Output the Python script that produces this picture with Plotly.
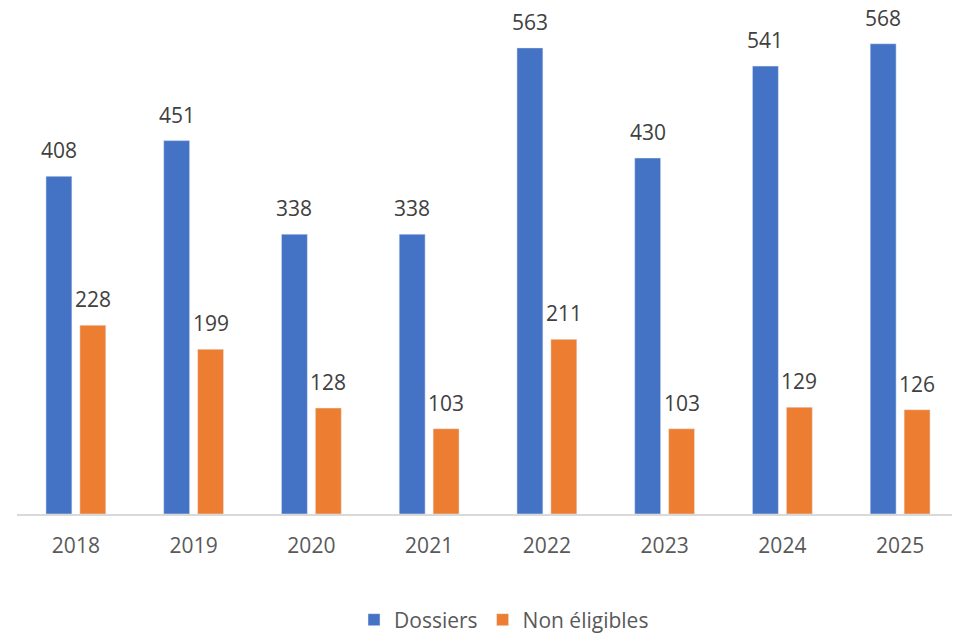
import plotly.graph_objects as go

years = ["2018", "2019", "2020", "2021", "2022", "2023", "2024", "2025"]
dossiers = [408, 451, 338, 338, 563, 430, 541, 568]
non_eligibles = [228, 199, 128, 103, 211, 103, 129, 126]

BLUE = "#4472C4"
ORANGE = "#ED7D31"
FONT = "Open Sans"

fig = go.Figure()
fig.add_trace(go.Bar(x=years, y=dossiers, name="Dossiers", marker_color=BLUE))
fig.add_trace(go.Bar(x=years, y=non_eligibles, name="Non éligibles", marker_color=ORANGE))

annotations = []
for i, v in enumerate(dossiers):
    annotations.append(dict(x=i, y=v, xref="x", yref="y", text=str(v), showarrow=False,
                            yanchor="bottom", xshift=-17, yshift=10,
                            font=dict(family=FONT, size=21, color="#404040")))
for i, v in enumerate(non_eligibles):
    annotations.append(dict(x=i, y=v, xref="x", yref="y", text=str(v), showarrow=False,
                            yanchor="bottom", xshift=17, yshift=10,
                            font=dict(family=FONT, size=21, color="#404040")))

fig.update_layout(
    width=952, height=626,
    margin=dict(l=9, r=1, t=12, b=120, autoexpand=False),
    paper_bgcolor="white", plot_bgcolor="white",
    barmode="group", bargap=0.424, bargroupgap=0.235,
    font=dict(family=FONT, size=21, color="#595959"),
    showlegend=True,
    legend=dict(orientation="h", x=0.517, xanchor="center",
                yref="container", y=14 / 626, yanchor="middle",
                font=dict(family=FONT, size=21, color="#595959"),
                traceorder="normal"),
    annotations=annotations,
)
fig.update_xaxes(type="category", categoryorder="array", categoryarray=years,
                 range=[-0.5, len(years) - 0.5], automargin=False,
                 showline=True, linecolor="#D9D9D9", linewidth=2, ticks="",
                 ticklabelstandoff=12,
                 tickfont=dict(family=FONT, size=21, color="#595959"), showgrid=False)
fig.update_yaxes(range=[0, 596.7], visible=False, showgrid=False, zeroline=False,
                 automargin=False)

fig.write_html("out.html")
